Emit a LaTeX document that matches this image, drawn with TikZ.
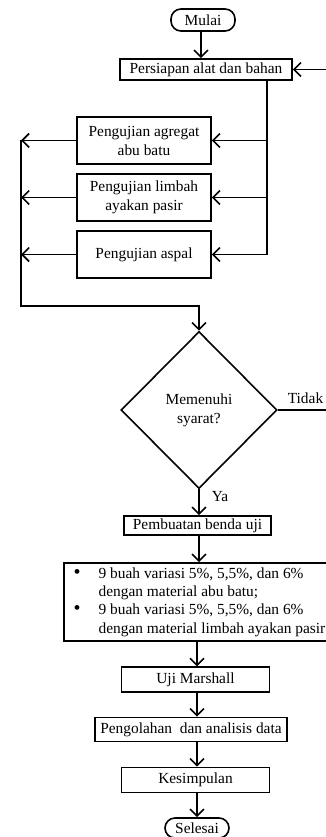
\documentclass[tikz,border=0pt]{standalone}
\usepackage{fontspec}
\setmainfont{Liberation Serif}
\usetikzlibrary{shapes.geometric,arrows.meta}

\begin{document}
\begin{tikzpicture}[x=1pt,y=-1pt,line width=1.6pt]
        \tikzstyle{box}=[draw,inner sep=0pt,align=center,font=\fontsize{15.4}{19}\selectfont]
        \tikzstyle{term}=[box,rounded corners=10pt,minimum width=64pt,minimum height=22pt]
        \tikzstyle{arr}=[-{Straight Barb[length=7pt,width=14pt,line width=1.6pt]}]
        \tikzstyle{lbl}=[inner sep=0pt,font=\fontsize{15.4}{19}\selectfont]

        \useasboundingbox (0,0) rectangle (325,837);

        \node (mulai)[term] at (203,20) {Mulai};
        \node (persiapan)[box,minimum width=172pt,minimum height=21pt] at (206,69.5) {Persiapan alat dan bahan};
        \node (agregat)[box,minimum width=134pt,minimum height=47pt] at (144,140.5) {Pengujian agregat\\abu batu};
        \node (limbah)[box,minimum width=134pt,minimum height=47pt] at (144,197.5) {Pengujian limbah\\ayakan pasir};
        \node (aspal)[box,minimum width=134pt,minimum height=47pt] at (144,254.5) {Pengujian aspal};
        \node (syarat)[box,diamond,aspect=1,minimum width=156pt,minimum height=157pt] at (199,410) {Memenuhi\\syarat?};
        \node (tidak)[lbl,anchor=south east] at (324,404) {Tidak};
        \node (ya)[lbl,anchor=west] at (211,497) {Ya};
        \node (pembuatan)[box,minimum width=147pt,minimum height=19pt] at (197.5,525.5) {Pembuatan benda uji};
        \node (variasi)[box,minimum width=272pt,minimum height=78pt,align=left,
            font=\fontsize{15.4}{18.3}\selectfont] at (200,602) {%
            \begin{tabular}{@{}p{25pt}@{}l@{}}
            {\fontsize{20}{18}\selectfont\textbullet} & 9 buah variasi 5\%, 5,5\%, dan 6\%\\
                        & dengan material abu batu;\\
            {\fontsize{20}{18}\selectfont\textbullet} & 9 buah variasi 5\%, 5,5\%, dan 6\%\\
                        & dengan material limbah ayakan pasir
            \end{tabular}\hspace{1pt}};
        \node (marshall)[box,minimum width=148pt,minimum height=25pt] at (195.5,679.7) {Uji Marshall};
        \node (olah)[box,minimum width=192pt,minimum height=24pt] at (191,729.5) {Pengolahan\ \ dan analisis data};
        \node (simpul)[box,minimum width=148pt,minimum height=25pt] at (195.5,780) {Kesimpulan};
        \node (selesai)[term,minimum height=20pt] at (197,828) {Selesai};

        % junction lines
        \coordinate (jr) at (267,0);
        \coordinate (jl) at (21,306);
        \coordinate (jt) at (332,0);

        \draw[arr] (mulai.south -| 201,0) -- (persiapan.north -| 201,0);
        \draw (persiapan.south -| jr) -- (aspal.east -| jr);
        \draw[arr] (agregat.east -| jr) -- (agregat.east);
        \draw[arr] (limbah.east -| jr) -- (limbah.east);
        \draw[arr] (aspal.east -| jr) -- (aspal.east);

        \draw[arr] (agregat.west) -- (agregat.west -| jl);
        \draw[arr] (limbah.west) -- (limbah.west -| jl);
        \draw[arr] (aspal.west) -- (aspal.west -| jl);
        \draw[arr] (agregat.west -| jl) -- (jl) -| (syarat.north);

        \draw[arr] (syarat.east) -- (syarat.east -| jt) |- (persiapan.east);
        \draw[arr] (syarat.south) -- (syarat.south |- pembuatan.north);
        \draw[arr] (pembuatan.south -| syarat.south) -- (variasi.north -| syarat.south);
        \draw[arr] (variasi.south -| 197,0) -- (marshall.north -| 197,0);
        \draw[arr] (marshall.south -| 197,0) -- (olah.north -| 197,0);
        \draw[arr] (olah.south -| 197,0) -- (simpul.north -| 197,0);
        \draw[arr] (simpul.south -| 197,0) -- (selesai.north);
\end{tikzpicture}
\end{document}
